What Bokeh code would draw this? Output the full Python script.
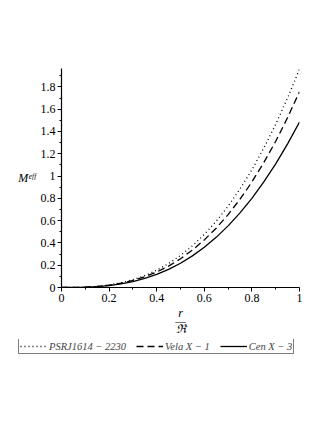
from bokeh.plotting import figure
from bokeh.models import Range1d, FixedTicker, Legend, LegendItem
from bokeh.layouts import column
from bokeh.embed import file_html
from bokeh.resources import INLINE

r = [0.0, 0.05, 0.1, 0.15, 0.2, 0.25, 0.3, 0.35, 0.4, 0.45, 0.5,
     0.55, 0.6, 0.65, 0.7, 0.75, 0.8, 0.85, 0.9, 0.95, 1.0]
psr = [0, 0.0005, 0.0033, 0.010, 0.023, 0.042, 0.070, 0.107, 0.155, 0.215, 0.287,
       0.374, 0.476, 0.594, 0.729, 0.884, 1.056, 1.250, 1.464, 1.701, 1.96]
vela = [0, 0.0004, 0.003, 0.009, 0.020, 0.038, 0.063, 0.096, 0.139, 0.192, 0.258,
        0.336, 0.427, 0.532, 0.654, 0.792, 0.947, 1.121, 1.312, 1.525, 1.757]
cen = [0, 0.0004, 0.0025, 0.0077, 0.017, 0.032, 0.053, 0.081, 0.117, 0.163, 0.218,
       0.284, 0.361, 0.450, 0.553, 0.670, 0.800, 0.947, 1.109, 1.289, 1.485]

x_ticks = [0, 0.2, 0.4, 0.6, 0.8, 1.0]
x_tick_labels = ["0", "0.2", "0.4", "0.6", "0.8", "1"]
x_minor = [0.1, 0.3, 0.5, 0.7, 0.9]
y_ticks = [0, 0.2, 0.4, 0.6, 0.8, 1.0, 1.2, 1.4, 1.6, 1.8]
y_tick_labels = ["0", "0.2", "0.4", "0.6", "0.8", "1", "1.2", "1.4", "1.6", "1.8"]
y_minor = [0.1, 0.3, 0.5, 0.7, 0.9, 1.1, 1.3, 1.5, 1.7, 1.9]
legend_labels = ["PSRJ1614 \u2212 2230", "Vela X \u2212 1", "Cen X \u2212 3"]
x_label = "r\n\u2014\n\u211c"
y_label = "M\u1d49\u1da0\u1da0"

FONT = "Liberation Serif"
STYLES = [dict(line_dash="1 3"), dict(line_dash="7 4"), dict()]

p = figure(width=319, height=339, output_backend="svg", toolbar_location=None,
           x_range=Range1d(0, 1), y_range=Range1d(0, 1.965),
           min_border_left=61, min_border_right=20, min_border_top=68, min_border_bottom=47)
p.frame_align = False
p.outline_line_color = None
p.xgrid.visible = False
p.ygrid.visible = False

p.xaxis.ticker = FixedTicker(ticks=x_ticks, minor_ticks=x_minor)
p.yaxis.ticker = FixedTicker(ticks=y_ticks, minor_ticks=y_minor)
p.xaxis.major_label_overrides = {t: l for t, l in zip(x_ticks, x_tick_labels)}
p.yaxis.major_label_overrides = {t: l for t, l in zip(y_ticks, y_tick_labels)}
for ax in (p.xaxis, p.yaxis):
    ax.axis_line_color = "black"
    ax.axis_line_width = 1.2
    ax.major_tick_line_color = "black"
    ax.minor_tick_line_color = "black"
    ax.major_tick_out = 4
    ax.major_tick_in = 0
    ax.minor_tick_out = 2
    ax.minor_tick_in = 0
    ax.major_label_text_font = FONT
    ax.major_label_text_font_size = "12px"
    ax.major_label_text_color = "black"
    ax.major_label_standoff = 2
    ax.axis_label_text_font = FONT
    ax.axis_label_text_font_style = "italic"
    ax.axis_label_text_font_size = "12px"
    ax.axis_label_text_color = "black"

p.xaxis.axis_label = x_label
p.xaxis.axis_label_standoff = 1
p.xaxis.axis_label_text_line_height = 0.6
p.yaxis.axis_label = y_label
p.yaxis.axis_label_orientation = "horizontal"
p.yaxis.axis_label_standoff = 2

series = [psr, vela, cen]
for ys, st in zip(series, STYLES):
    p.line(r, ys, line_color="black", line_width=1.3, **st)

# legend strip below the chart (its lines lie outside the strip's visible range)
q = figure(width=319, height=20, output_backend="svg", toolbar_location=None,
           x_range=Range1d(-3, -2), y_range=Range1d(-3, -2),
           x_axis_type=None, y_axis_type=None,
           min_border_left=0, min_border_right=0, min_border_top=0, min_border_bottom=0)
q.frame_align = False
q.xgrid.visible = False
q.ygrid.visible = False
q.outline_line_color = None
items = []
for lab, ys, st in zip(legend_labels, series, STYLES):
    rr = q.line(r, ys, line_color="black", line_width=1.3, **st)
    items.append(LegendItem(label=lab, renderers=[rr]))
legend = Legend(items=items, orientation="horizontal", location=(18, 5),
                label_text_font=FONT, label_text_font_style="italic",
                label_text_font_size="10.5px", label_height=12, glyph_height=12,
                glyph_width=27, label_standoff=2, spacing=10, padding=1, margin=0,
                border_line_color="black", border_line_width=1,
                background_fill_alpha=0)
q.add_layout(legend, "center")

layout = column(p, q, spacing=0)
open("out.html", "w").write(file_html(layout, INLINE))
